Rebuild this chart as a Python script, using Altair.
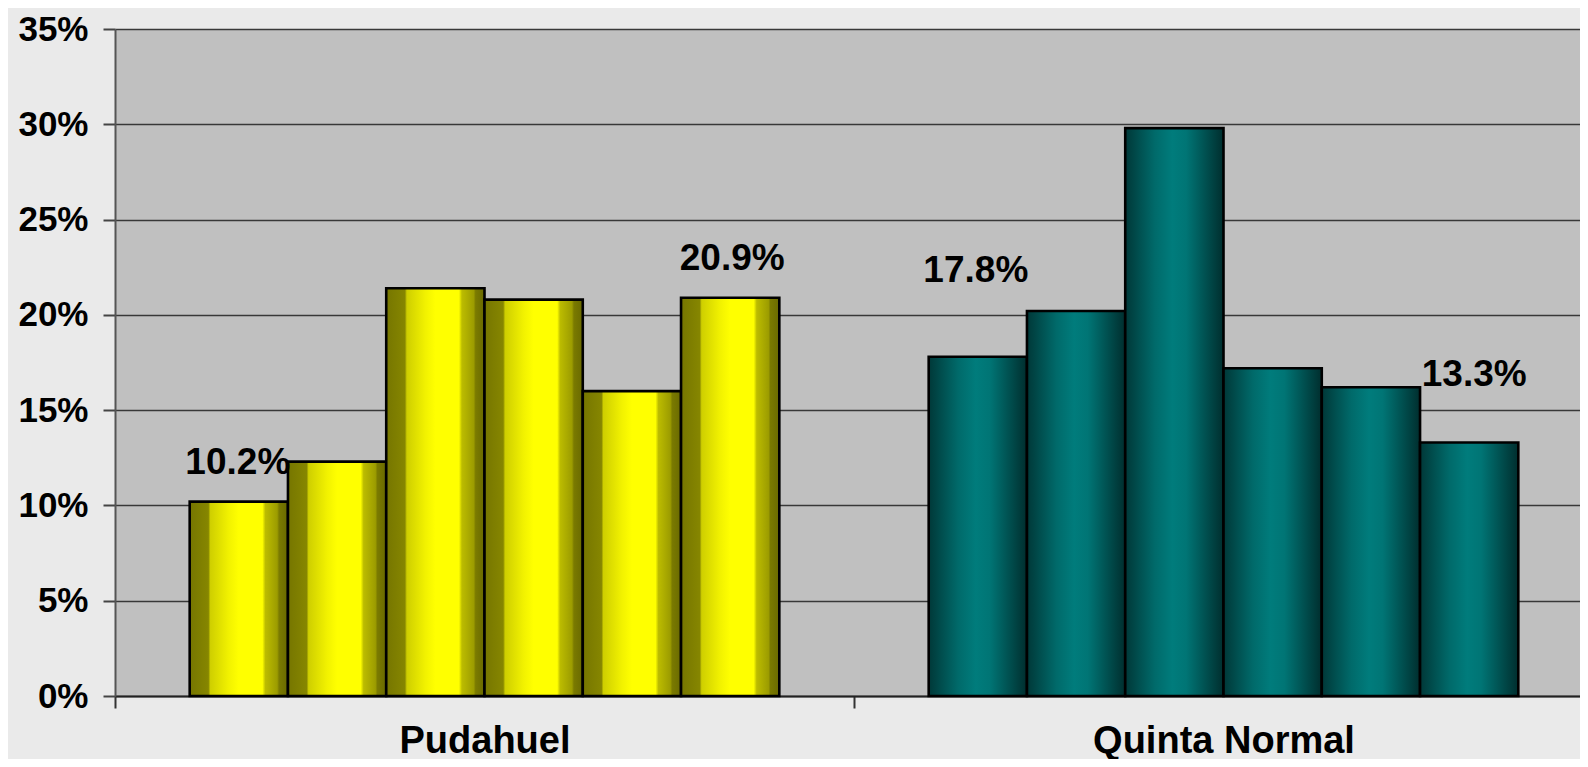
import altair as alt
import pandas as pd

# ---- data ----
comunas = ["Pudahuel", "Quinta Normal"]
bar_index = [1, 2, 3, 4, 5, 6]
pudahuel = [10.2, 12.3, 21.4, 20.8, 16.0, 20.9]
quinta_normal = [17.8, 20.2, 29.8, 17.2, 16.2, 13.3]
y_ticks = [0, 5, 10, 15, 20, 25, 30, 35]

rows = []
for comuna, series in zip(comunas, [pudahuel, quinta_normal]):
    for i, v in zip(bar_index, series):
        rows.append({"comuna": comuna, "idx": i, "value": v / 100.0})
df = pd.DataFrame(rows)

yellow_grad = {
    "gradient": "linear", "x1": 0, "x2": 1, "y1": 0, "y2": 0,
    "stops": [
        {"offset": 0.0, "color": "#767600"},
        {"offset": 0.19, "color": "#868600"},
        {"offset": 0.21, "color": "#cfcf00"},
        {"offset": 0.40, "color": "#f2f200"},
        {"offset": 0.50, "color": "#ffff00"},
        {"offset": 0.74, "color": "#ffff00"},
        {"offset": 0.77, "color": "#bcbc00"},
        {"offset": 0.89, "color": "#9c9c00"},
        {"offset": 0.91, "color": "#7a7a00"},
        {"offset": 1.0, "color": "#6a6a00"},
    ],
}
teal_grad = {
    "gradient": "linear", "x1": 0, "x2": 1, "y1": 0, "y2": 0,
    "stops": [
        {"offset": 0.0, "color": "#003838"},
        {"offset": 0.30, "color": "#006a6a"},
        {"offset": 0.48, "color": "#007c7c"},
        {"offset": 0.62, "color": "#007575"},
        {"offset": 1.0, "color": "#002e2e"},
    ],
}

FONT = "Liberation Sans, Arial, sans-serif"

x_enc = alt.X(
    "comuna:N",
    sort=comunas,
    scale=alt.Scale(range=[0, 1478], paddingInner=0, paddingOuter=0),
    axis=alt.Axis(
        title=None, labelAngle=0, labelFont=FONT, labelFontWeight="bold",
        labelFontSize=38, labelColor="#000000", labelPadding=14,
        labelLimit=0,
        tickBand="extent", tickSize=12, tickColor="#333333", tickWidth=2,
        domainColor="#222222", domainWidth=2, grid=False,
    ),
)
xoff_enc = alt.XOffset(
    "idx:O", scale=alt.Scale(paddingInner=0, paddingOuter=0.76)
)
y_enc = alt.Y(
    "value:Q",
    scale=alt.Scale(domain=[0, 0.35], nice=False),
    axis=alt.Axis(
        title=None, values=[t / 100.0 for t in y_ticks], format=".0%",
        labelFont=FONT, labelFontWeight="bold", labelFontSize=35,
        labelColor="#000000", labelPadding=15, tickSize=12,
        tickColor="#444444", tickWidth=2, domainColor="#555555",
        domainWidth=2, grid=True, gridColor="#383838", gridWidth=1.5,
    ),
)

base = alt.Chart(df)

bars_p = base.transform_filter(alt.datum.comuna == "Pudahuel").mark_bar(
    color=yellow_grad, stroke="#000000", strokeWidth=2.6
).encode(x=x_enc, xOffset=xoff_enc, y=y_enc)

bars_q = base.transform_filter(alt.datum.comuna == "Quinta Normal").mark_bar(
    color=teal_grad, stroke="#000000", strokeWidth=2.6
).encode(x=x_enc, xOffset=xoff_enc, y=y_enc)


def label(comuna, idx, dx, dy):
    return base.transform_filter(
        (alt.datum.comuna == comuna) & (alt.datum.idx == idx)
    ).mark_text(
        font=FONT, fontSize=37, fontWeight="bold", color="#000000",
        align="center", baseline="alphabetic", dx=dx, dy=dy,
    ).encode(
        x=x_enc, xOffset=xoff_enc, y=y_enc,
        text=alt.Text("value:Q", format=".1%"),
    )


labels = [
    label("Pudahuel", 1, -1, -28),
    label("Pudahuel", 6, 2, -28),
    label("Quinta Normal", 1, -2, -75),
    label("Quinta Normal", 6, 5, -57),
]

chart = alt.layer(bars_p, bars_q, *labels).properties(
    width=1465,
    height=667,
    autosize=alt.AutoSizeParams(type="none"),
    padding={"left": 107, "top": 21, "right": 0, "bottom": 63},
    background="#eaeaea",
).configure_view(
    fill="#c0c0c0", strokeWidth=0
)

chart.save("out.html", embed_options={"renderer": "svg", "actions": False})
